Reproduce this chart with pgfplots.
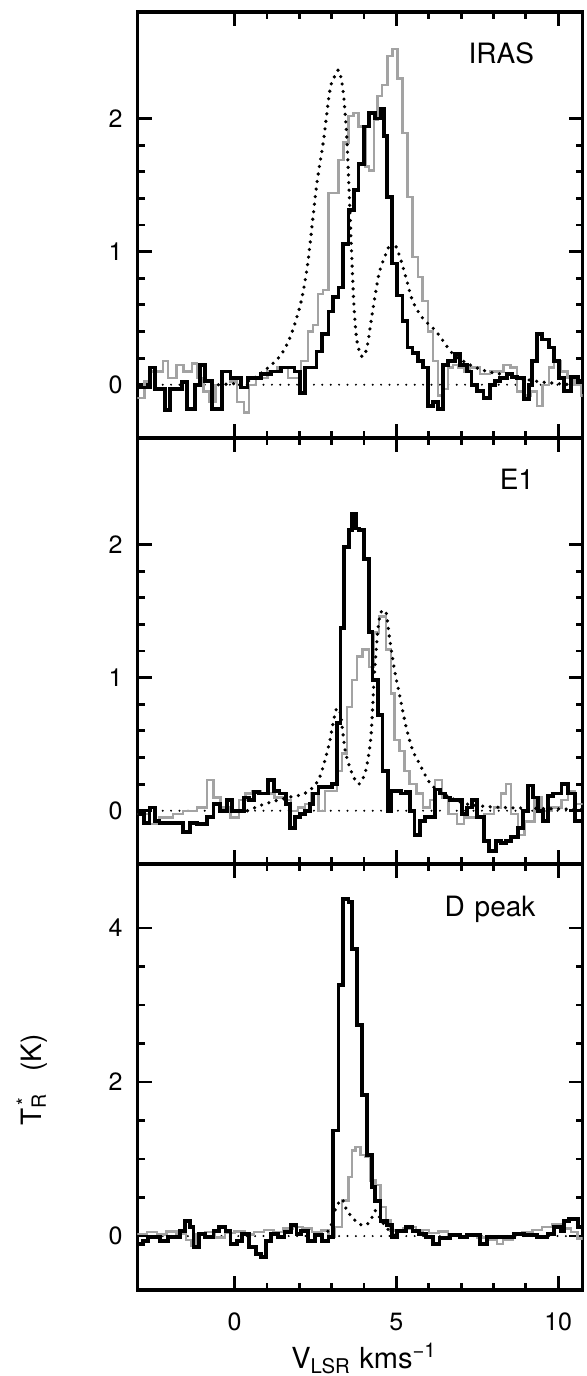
\documentclass[border=0pt]{standalone}
\usepackage{pgfplots}
\pgfplotsset{compat=1.18}
\usepackage{fontspec}
\setmainfont{TeX Gyre Heros}
\pgfplotsset{
  panel/.style={
    width=222.5pt, height=213pt, scale only axis,
    xmin=-3, xmax=10.75,
    xtick={0,5,10}, minor x tick num=4,
    tick align=inside, tick pos=both,
    major tick length=7pt, minor tick length=3.5pt,
    every tick/.style={line width=1.4pt, black},
    axis line style={line width=1.7pt},
    tick label style={font=\fontsize{12.5}{14}\selectfont},
    /pgf/number format/assume math mode=true,
    yticklabel style={xshift=-4pt},
    xticklabel style={yshift=-8pt},
    clip=true,
  },
  blackh/.style={const plot, black, line width=1.9pt, no markers},
  grayh/.style={const plot, black!36, line width=1.2pt, no markers},
  dotc/.style={black, line width=1.8pt, dash pattern=on 0pt off 3.8pt, line cap=round, no markers},
  base/.style={black, line width=1.1pt, dash pattern=on 0pt off 4.2pt, line cap=round, no markers},
}
\begin{document}
\begin{tikzpicture}
\useasboundingbox (0,0) rectangle (293pt,688pt);
% ---------------- Panel 1: IRAS
\begin{axis}[panel, at={(68.75pt,469pt)}, anchor=south west,
  ymin=-0.4, ymax=2.8, ytick={0,1,2}, minor y tick num=4, xticklabels={}]
\addplot[base] coordinates {(-3,0)(10.75,0)};
\addplot[grayh] coordinates {(-3,-0.10)(-2.78,0.025)(-2.625,0.10)(-2.21,0.18)(-2.05,0.05)(-1.79,0.15)(-1.58,0.10)(-1.32,0.16)(-1.17,0.05)(-0.96,-0.05)(-0.80,-0.13)(-0.59,0.0)(-0.385,0.10)(-0.125,0.025)(0.08,-0.13)(0.29,-0.21)(0.45,0.0)(0.66,0.05)(1.02,0.10)(1.33,0.13)(1.65,0.05)(2.06,0.18)(2.27,0.40)(2.43,0.45)(2.58,0.68)(2.74,0.71)(2.90,1.44)(3.21,1.69)(3.36,1.82)(3.52,2.02)(3.68,2.04)(3.83,1.94)(4.04,1.64)(4.15,1.61)(4.30,1.99)(4.41,2.17)(4.56,2.25)(4.72,2.47)(4.875,2.52)(5.03,2.30)(5.19,1.89)(5.34,1.41)(5.5,0.96)(5.66,0.81)(5.81,0.63)(5.97,0.40)(6.125,0.18)(6.28,-0.08)(6.44,-0.03)(6.59,0.13)(6.75,0.15)(6.91,0.13)(7.11,0.10)(7.27,0.13)(7.58,0.08)(7.90,0.10)(8.31,0.15)(8.52,0.13)(8.73,-0.05)(8.94,-0.08)(9.15,-0.05)(9.35,-0.16)(9.51,0.0)(9.72,0.13)(9.875,0.18)(10.08,0.10)(10.29,0.05)(10.5,0.0)(10.71,-0.08)(10.75,-0.08)};
\addplot[blackh] coordinates {(-3,-0.02)(-2.625,0.13)(-2.47,-0.03)(-2.16,-0.19)(-2.0,-0.03)(-1.635,0.02)(-1.48,-0.18)(-1.22,0.0)(-1.06,0.15)(-0.91,0.03)(-0.70,-0.18)(-0.385,0.10)(-0.125,0.05)(0.19,-0.02)(0.40,0.05)(0.81,0.08)(1.125,0.10)(1.44,0.13)(1.85,0.10)(2.01,-0.06)(2.17,0.13)(2.53,0.25)(2.69,0.38)(2.90,0.55)(3.05,0.66)(3.21,0.73)(3.36,1.06)(3.52,1.31)(3.68,1.46)(3.83,1.66)(3.99,1.94)(4.15,2.04)(4.35,2.00)(4.51,2.07)(4.61,1.87)(4.72,1.41)(4.875,0.91)(5.03,0.67)(5.19,0.48)(5.34,0.28)(5.5,0.24)(5.66,0.18)(5.81,0.13)(5.97,-0.16)(6.125,-0.13)(6.28,-0.18)(6.44,0.15)(6.59,0.18)(6.80,0.23)(6.96,0.15)(7.17,0.10)(7.32,0.0)(7.48,-0.05)(7.69,-0.10)(7.90,0.0)(8.05,0.03)(8.21,0.05)(8.42,0.08)(8.57,0.06)(8.73,0.05)(8.94,-0.11)(9.09,0.0)(9.20,0.18)(9.35,0.38)(9.51,0.34)(9.72,0.28)(9.875,0.18)(10.03,0.05)(10.19,-0.05)(10.40,0.06)(10.60,0.03)(10.75,0.03)};
\addplot[dotc, smooth] coordinates {(-0.5,0.0)(0.40,0.025)(1.02,0.125)(1.44,0.227)(1.75,0.378)(2.06,0.63)(2.27,0.93)(2.53,1.49)(2.74,1.82)(2.95,2.22)(3.10,2.32)(3.23,2.36)(3.36,2.19)(3.47,1.84)(3.57,1.26)(3.68,0.63)(3.78,0.33)(3.94,0.21)(4.09,0.28)(4.25,0.53)(4.46,0.83)(4.67,0.98)(4.875,1.08)(5.08,0.98)(5.29,0.81)(5.5,0.63)(5.81,0.50)(6.23,0.40)(6.75,0.23)(7.27,0.15)(7.79,0.10)(8.31,0.076)(9.35,0.025)(10.4,0.0)};
\node[anchor=base east, font=\fontsize{14}{16}\selectfont] at (rel axis cs:0.907,0.88) {IRAS};
\end{axis}
% ---------------- Panel 2: E1
\begin{axis}[panel, at={(68.75pt,256pt)}, anchor=south west,
  ymin=-0.4, ymax=2.8, ytick={0,1,2}, minor y tick num=4, xticklabels={}]
\addplot[base] coordinates {(-3,0)(10.75,0)};
\addplot[grayh] coordinates {(-3,-0.025)(-2.63,-0.10)(-2.32,-0.05)(-1.90,-0.025)(-1.59,0.0)(-1.17,0.025)(-0.86,0.23)(-0.65,0.10)(-0.44,0.025)(-0.125,-0.05)(0.14,0.08)(0.34,0.13)(0.55,0.15)(0.81,0.13)(1.23,0.10)(1.54,0.08)(1.75,0.0)(1.96,0.025)(2.17,0.05)(2.38,0.13)(2.59,0.0)(2.80,0.15)(3.16,0.30)(3.32,0.43)(3.48,0.78)(3.63,0.98)(3.79,1.16)(3.95,1.21)(4.15,1.08)(4.31,1.34)(4.47,1.46)(4.68,1.21)(4.83,0.88)(4.94,0.53)(5.09,0.45)(5.25,0.30)(5.41,0.20)(5.62,0.13)(5.82,0.025)(6.03,0.08)(6.19,0.23)(6.40,0.10)(6.61,-0.025)(6.87,-0.10)(7.08,-0.05)(7.70,-0.025)(8.02,0.025)(8.23,0.13)(8.38,0.20)(8.54,-0.025)(8.75,-0.18)(8.96,-0.08)(9.27,0.10)(9.48,0.0)(9.79,0.025)(10.10,0.08)(10.31,0.15)(10.52,0.05)(10.75,0.05)};
\addplot[blackh] coordinates {(-3,-0.025)(-2.79,-0.09)(-2.63,0.025)(-2.47,-0.08)(-2.32,-0.09)(-1.59,-0.16)(-1.38,-0.09)(-1.17,-0.10)(-0.86,-0.05)(-0.65,0.05)(-0.44,0.0)(-0.23,0.08)(-0.07,0.0)(0.29,0.10)(0.45,0.08)(0.605,0.14)(0.76,0.13)(1.02,0.23)(1.23,0.15)(1.39,0.13)(1.60,0.05)(1.70,-0.13)(1.86,-0.05)(2.01,-0.025)(2.17,0.0)(2.33,0.05)(2.43,0.13)(2.59,0.18)(3.01,0.20)(3.16,0.66)(3.27,1.37)(3.37,1.98)(3.53,2.11)(3.63,2.23)(3.74,2.12)(3.84,2.11)(4.0,1.89)(4.15,1.34)(4.26,0.98)(4.42,0.72)(4.57,0.30)(4.73,0.0)(4.83,0.15)(5.15,0.13)(5.30,0.14)(5.41,0.0)(5.56,-0.18)(5.72,-0.08)(5.88,-0.05)(6.19,0.16)(6.35,0.13)(6.50,0.10)(6.66,0.08)(7.03,-0.025)(7.18,0.025)(7.34,0.08)(7.49,-0.05)(7.70,-0.23)(7.86,-0.30)(8.07,-0.23)(8.23,-0.24)(8.38,-0.23)(8.54,-0.20)(8.75,-0.13)(8.90,0.0)(9.06,0.19)(9.22,0.10)(9.37,0.0)(9.53,-0.08)(9.69,0.11)(9.84,0.13)(10.10,0.20)(10.31,0.13)(10.52,-0.08)(10.75,-0.08)};
\addplot[dotc, smooth] coordinates {(0.4,0.0)(0.92,0.05)(1.65,0.10)(2.17,0.13)(2.59,0.23)(2.90,0.48)(3.06,0.68)(3.16,0.77)(3.27,0.73)(3.42,0.45)(3.63,0.28)(3.84,0.20)(4.05,0.30)(4.21,0.55)(4.31,0.98)(4.42,1.34)(4.52,1.49)(4.68,1.49)(4.78,1.31)(4.94,1.06)(5.09,0.88)(5.30,0.63)(5.51,0.45)(5.72,0.35)(5.93,0.25)(6.14,0.18)(6.66,0.10)(7.18,0.05)(8.23,0.025)(10.75,0.01)};
\node[anchor=base east, font=\fontsize{14}{16}\selectfont] at (rel axis cs:0.907,0.88) {E1};
\end{axis}
% ---------------- Panel 3: D peak
\begin{axis}[panel, at={(68.75pt,43pt)}, anchor=south west,
  ymin=-0.7, ymax=4.83, ytick={0,2,4}, minor y tick num=3]
\addplot[base] coordinates {(-3,0)(10.75,0)};
\addplot[grayh] coordinates {(-3,0.03)(-2.7,0.05)(-2.4,0.02)(-2.1,0.06)(-1.8,0.03)(-1.5,-0.05)(-1.35,-0.12)(-1.2,0.02)(-0.9,0.05)(-0.6,-0.02)(-0.3,0.04)(0.0,0.06)(0.3,0.02)(0.6,0.05)(0.9,0.08)(1.2,0.05)(1.5,0.10)(1.8,0.12)(2.1,0.10)(2.4,0.05)(2.69,0.07)(2.90,-0.01)(3.10,0.12)(3.31,0.46)(3.52,0.77)(3.625,1.11)(3.73,1.16)(3.885,1.05)(4.04,1.03)(4.20,0.72)(4.35,0.66)(4.51,0.38)(4.67,0.20)(4.82,0.07)(4.98,0.07)(5.2,0.10)(5.4,0.12)(5.6,0.06)(5.8,0.08)(6.0,0.04)(6.3,0.06)(6.6,0.02)(6.9,0.0)(7.2,0.02)(7.5,-0.02)(7.8,-0.05)(8.1,-0.10)(8.3,-0.05)(8.6,0.02)(8.9,0.05)(9.2,0.08)(9.5,0.12)(9.8,0.16)(10.1,0.10)(10.4,0.05)(10.6,-0.03)(10.75,-0.03)};
\addplot[blackh] coordinates {(-3,-0.10)(-2.83,-0.06)(-2.68,-0.01)(-2.31,-0.06)(-2.05,-0.01)(-1.69,0.07)(-1.53,0.20)(-1.375,0.12)(-1.27,-0.14)(-1.11,0.03)(-0.91,-0.01)(-0.65,0.07)(-0.49,0.12)(-0.28,0.07)(-0.125,-0.10)(0.08,-0.06)(0.24,0.03)(0.45,-0.14)(0.66,-0.23)(0.81,-0.27)(0.97,-0.06)(1.125,0.03)(1.33,-0.01)(1.54,0.05)(1.75,0.14)(1.91,0.03)(2.06,0.07)(2.27,-0.06)(2.48,0.01)(2.69,-0.06)(2.90,-0.01)(3.05,1.37)(3.21,3.26)(3.36,4.38)(3.52,4.34)(3.625,3.73)(3.78,2.74)(3.94,1.83)(4.09,1.05)(4.25,0.64)(4.35,0.46)(4.51,0.20)(4.72,0.14)(4.875,-0.01)(5.03,0.07)(5.29,0.12)(5.5,0.07)(5.71,0.03)(5.92,-0.01)(6.125,-0.10)(6.33,-0.03)(6.65,0.01)(6.96,-0.01)(7.17,0.01)(7.58,-0.10)(7.79,-0.01)(8.625,0.03)(8.94,0.01)(9.35,-0.01)(9.67,0.03)(9.875,0.12)(10.08,0.07)(10.19,0.20)(10.34,0.22)(10.60,0.12)(10.75,0.12)};
\addplot[dotc, smooth] coordinates {(2.7,0.0)(2.95,0.10)(3.10,0.33)(3.31,0.48)(3.47,0.33)(3.625,0.25)(3.83,0.16)(4.04,0.14)(4.20,0.20)(4.35,0.33)(4.51,0.22)(4.67,0.12)(4.875,0.03)(4.98,0.0)};
\node[anchor=base east, font=\fontsize{14}{16}\selectfont] at (rel axis cs:0.91,0.876) {D\hspace{0.35em}peak};
\end{axis}
\node[anchor=base, font=\fontsize{14.5}{16}\selectfont] at (182pt,4pt) {V\textsubscript{LSR}\hspace{0.3em}kms\textsuperscript{−1}};
\node[rotate=90, font=\fontsize{14}{16}\selectfont] at (16pt,148pt) {T\textsubscript{R}\kern-0.45em\textsuperscript{*}\hspace{0.9em}(K)};
\end{tikzpicture}
\end{document}
